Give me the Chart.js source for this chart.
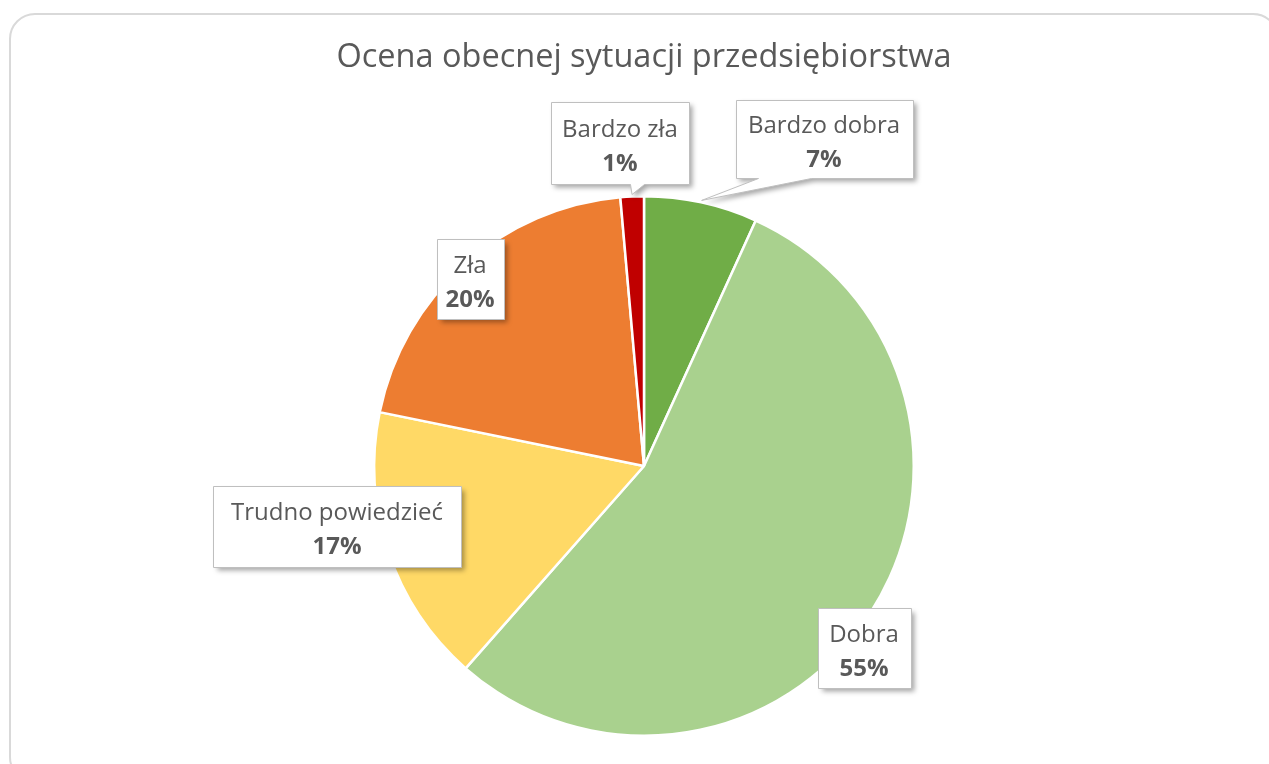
<!DOCTYPE html>
<html>
<head>
<meta charset="utf-8">
<script src="https://cdn.jsdelivr.net/npm/chart.js@4"></script>
<style>
    body { margin: 0; background: #fff; overflow: hidden; }
    #wrap { position: relative; width: 1269px; height: 764px; }
    #ramka {
        position: absolute; left: 9px; top: 13px; width: 1270px; height: 770px;
        border: 2px solid #d9d9d9; border-radius: 26px; box-sizing: border-box;
    }
    canvas { position: absolute; left: 0; top: 0; }
</style>
</head>
<body>
<div id="wrap">
    <div id="ramka"></div>
    <canvas id="pieOcena" width="1269" height="764"></canvas>
</div>
<script>
// dane wykresu
const kategorie = ['Bardzo dobra', 'Dobra', 'Trudno powiedzieć', 'Zła', 'Bardzo zła'];
const wartosci = [6.8, 54.7, 16.7, 20.4, 1.4];
const kolory = ['#70ad47', '#a9d18e', '#ffd966', '#ed7d31', '#c00000'];

// pozycje etykiet (srodek ramki wzgledem srodka kola) i ich wymiary
const etykiety = [
    { dx: 180, dy: -327, w: 177, h: 78, wskaznik: [22, 75] },
    { dx: 220, dy: 182, w: 93, h: 80 },
    { dx: -307, dy: 60, w: 248, h: 81 },
    { dx: -174, dy: -187, w: 67, h: 80 },
    { dx: -24, dy: -323, w: 138, h: 82, wskaznik: [79, 93] }
];

const fontRodzina = "'Open Sans', 'Liberation Sans', sans-serif";

// plugin rysujacy etykiety w ramkach
const pluginEtykiet = {
    id: 'etykiety',
    afterDatasetsDraw(chart) {
        const ctx = chart.ctx;
        const meta = chart.getDatasetMeta(0);
        meta.data.forEach((arc, i) => {
            const p = arc.getProps(['x', 'y', 'startAngle', 'endAngle', 'outerRadius'], true);
            const e = etykiety[i];
            const cx = p.x + e.dx, cy = p.y + e.dy;
            const x0 = Math.round(cx - e.w / 2) + 0.5, y0 = Math.round(cy - e.h / 2) + 0.5;
            const x1 = x0 + e.w, y1 = y0 + e.h;

            ctx.save();
            ctx.beginPath();
            ctx.moveTo(x0, y0);
            ctx.lineTo(x1, y0);
            ctx.lineTo(x1, y1);
            if (e.wskaznik) {
                const mid = (p.startAngle + p.endAngle) / 2;
                const tx = p.x + Math.cos(mid) * (p.outerRadius + 2);
                const ty = p.y + Math.sin(mid) * (p.outerRadius + 2);
                ctx.lineTo(x0 + e.wskaznik[1], y1);
                ctx.lineTo(tx, ty);
                ctx.lineTo(x0 + e.wskaznik[0], y1);
            }
            ctx.lineTo(x0, y1);
            ctx.closePath();
            ctx.shadowColor = 'rgba(0,0,0,0.35)';
            ctx.shadowBlur = 5;
            ctx.shadowOffsetX = 3;
            ctx.shadowOffsetY = 3;
            ctx.fillStyle = '#ffffff';
            ctx.fill();
            ctx.shadowColor = 'transparent';
            ctx.strokeStyle = '#bfbfbf';
            ctx.lineWidth = 1;
            ctx.stroke();

            ctx.fillStyle = '#595959';
            ctx.textAlign = 'center';
            ctx.textBaseline = 'middle';
            ctx.font = '24px ' + fontRodzina;
            ctx.fillText(kategorie[i], cx, cy - 13);
            ctx.font = 'bold 24px ' + fontRodzina;
            ctx.fillText(Math.round(wartosci[i]) + '%', cx, cy + 21);
            ctx.restore();
        });
    }
};

const dadosOcena = {
    labels: kategorie,
    datasets: [{
        data: wartosci,
        backgroundColor: kolory,
        borderColor: '#ffffff',
        borderWidth: 2.5
    }]
};

const configOcena = {
    type: 'pie',
    data: dadosOcena,
    options: {
        responsive: false,
        animation: false,
        layout: {
            padding: { top: 38.5, bottom: 27, left: 119, right: 100 }
        },
        plugins: {
            title: {
                display: true,
                text: 'Ocena obecnej sytuacji przedsiębiorstwa',
                color: '#595959',
                padding: { top: 0, bottom: 117.5 },
                font: {
                    size: 32.5,
                    weight: 'normal',
                    family: fontRodzina
                }
            },
            legend: { display: false },
            tooltip: { enabled: false }
        }
    },
    plugins: [pluginEtykiet]
};

new Chart(document.getElementById('pieOcena').getContext('2d'), configOcena);
</script>
</body>
</html>
